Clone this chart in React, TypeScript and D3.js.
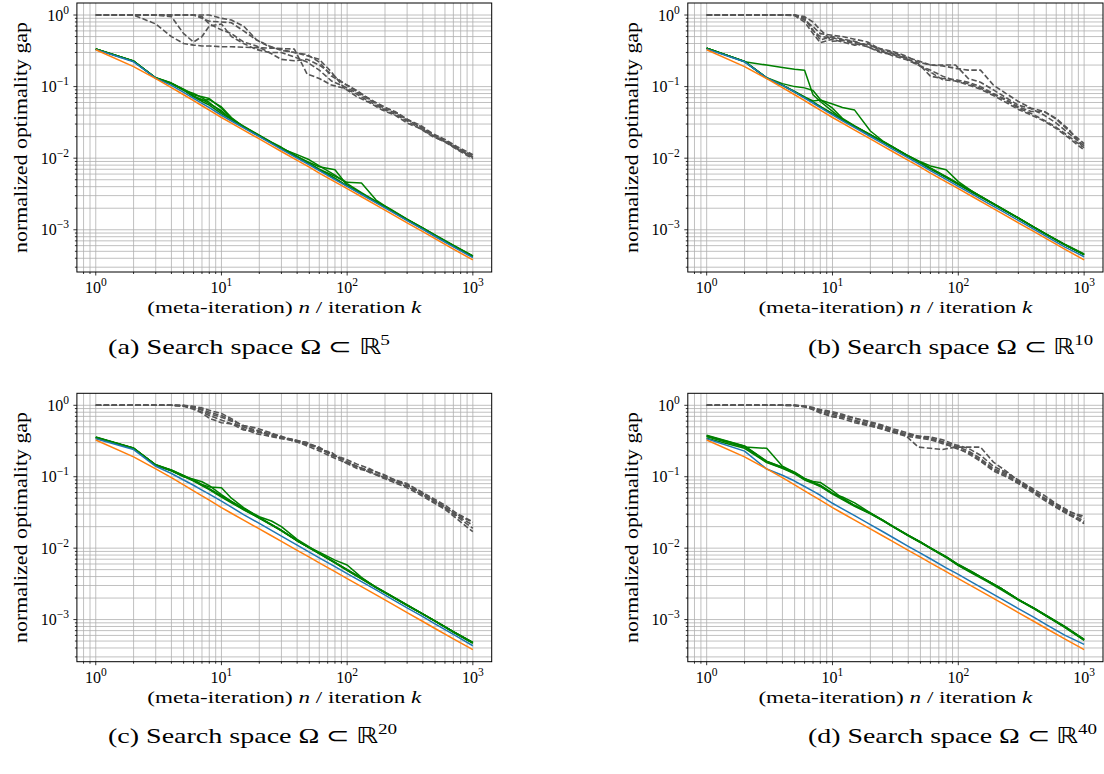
import React from 'react';
import * as d3 from 'd3';

// ---------- data ----------
// iteration grid for the solid curves
const K = [1, 2, 3, 4, 5, 6, 7, 8, 10, 12, 15, 20, 25, 30, 40, 50, 60, 80, 100, 130, 170, 220, 300, 400, 500, 700, 1000];
// iteration grid for the dashed (gray) curves
const GK = [1, 2, 3, 4, 5, 6, 7, 8, 10, 12, 15, 19, 24, 30, 38, 48, 60, 75, 95, 120, 150, 190, 240, 300, 380, 480, 600, 760, 1000];

const ORANGE = [0.327, 0.19, 0.129, 0.097, 0.077, 0.0635, 0.054, 0.047, 0.037, 0.0308, 0.0247, 0.0186, 0.0149, 0.0124, 0.0093, 0.0075, 0.0062, 0.00468, 0.00375, 0.00289, 0.00221, 0.00171, 0.00125, 0.00094, 0.00075, 0.000535, 0.00038];

const BLUE_A = [0.33, 0.222, 0.131, 0.104, 0.083, 0.0685, 0.0583, 0.0507, 0.0398, 0.0331, 0.0265, 0.02, 0.016, 0.0133, 0.01, 0.0081, 0.0067, 0.00503, 0.00403, 0.00311, 0.00237, 0.00184, 0.00134, 0.00101, 0.000805, 0.000575, 0.000408];
const BLUE_B = [0.335, 0.222, 0.132, 0.104, 0.084, 0.069, 0.059, 0.051, 0.0402, 0.0333, 0.0267, 0.0201, 0.0161, 0.0134, 0.0101, 0.0081, 0.0067, 0.00505, 0.00405, 0.00312, 0.00238, 0.00185, 0.00135, 0.00101, 0.00081, 0.000578, 0.00042];
const BLUE_C = [0.34, 0.24, 0.14, 0.111, 0.09, 0.076, 0.065, 0.057, 0.0455, 0.0375, 0.0295, 0.0222, 0.0177, 0.0147, 0.011, 0.0088, 0.0073, 0.0055, 0.0044, 0.0034, 0.0026, 0.002, 0.00146, 0.0011, 0.00087, 0.00062, 0.00043];
const BLUE_D = [0.34, 0.228, 0.128, 0.105, 0.087, 0.073, 0.063, 0.055, 0.0425, 0.0355, 0.0285, 0.0214, 0.0171, 0.0142, 0.0106, 0.0085, 0.0071, 0.0053, 0.0043, 0.0033, 0.00252, 0.00195, 0.00142, 0.00107, 0.00085, 0.000605, 0.00045];

const GREEN_A = [
  [0.335, 0.228, 0.133, 0.112, 0.092, 0.077, 0.072, 0.068, 0.05, 0.036, 0.0275, 0.0207, 0.0165, 0.0138, 0.0104, 0.0084, 0.0069, 0.0052, 0.0041, 0.0032, 0.00245, 0.0019, 0.00138, 0.00104, 0.00083, 0.00059, 0.000425],
  [0.335, 0.226, 0.132, 0.111, 0.09, 0.08, 0.07, 0.06, 0.044, 0.035, 0.028, 0.021, 0.0168, 0.0142, 0.0105, 0.0087, 0.0076, 0.0069, 0.0042, 0.00322, 0.00246, 0.00191, 0.00139, 0.00105, 0.00084, 0.0006, 0.00043],
  [0.336, 0.228, 0.133, 0.112, 0.091, 0.074, 0.064, 0.066, 0.052, 0.037, 0.0274, 0.0204, 0.0164, 0.0139, 0.0106, 0.0084, 0.007, 0.0056, 0.0046, 0.0045, 0.0026, 0.00192, 0.0014, 0.00105, 0.00083, 0.0006, 0.000425],
  [0.334, 0.227, 0.131, 0.11, 0.09, 0.073, 0.066, 0.058, 0.046, 0.035, 0.0272, 0.0205, 0.0166, 0.0137, 0.0112, 0.0095, 0.0078, 0.0058, 0.0044, 0.0033, 0.0025, 0.00195, 0.00141, 0.00106, 0.00085, 0.00061, 0.00043],
  [0.335, 0.227, 0.132, 0.11, 0.089, 0.072, 0.062, 0.055, 0.042, 0.0345, 0.0272, 0.0205, 0.0164, 0.0137, 0.0103, 0.0083, 0.0069, 0.0052, 0.0041, 0.00318, 0.00243, 0.00188, 0.00137, 0.00103, 0.00082, 0.00059, 0.00042],
];
const GREEN_B = [
  [0.345, 0.222, 0.2, 0.185, 0.175, 0.169, 0.077, 0.062, 0.045, 0.035, 0.028, 0.0213, 0.017, 0.0143, 0.0107, 0.0086, 0.0071, 0.0054, 0.0043, 0.0033, 0.00255, 0.00198, 0.00145, 0.00108, 0.00086, 0.00062, 0.00045],
  [0.345, 0.225, 0.133, 0.11, 0.1, 0.096, 0.088, 0.066, 0.05, 0.036, 0.0282, 0.0214, 0.0171, 0.0143, 0.0107, 0.0087, 0.0072, 0.0055, 0.0044, 0.0034, 0.0026, 0.002, 0.00146, 0.00109, 0.00087, 0.00062, 0.00045],
  [0.345, 0.225, 0.132, 0.105, 0.086, 0.072, 0.063, 0.065, 0.057, 0.051, 0.047, 0.024, 0.0175, 0.0145, 0.0108, 0.0088, 0.0073, 0.0055, 0.0044, 0.0034, 0.0026, 0.002, 0.00147, 0.00109, 0.00087, 0.00063, 0.00046],
  [0.343, 0.224, 0.131, 0.104, 0.084, 0.07, 0.06, 0.052, 0.042, 0.0345, 0.0276, 0.021, 0.0172, 0.0144, 0.0108, 0.0089, 0.0078, 0.0069, 0.0047, 0.0034, 0.0026, 0.00199, 0.00146, 0.00108, 0.00086, 0.00062, 0.00045],
  [0.345, 0.225, 0.132, 0.105, 0.085, 0.071, 0.061, 0.053, 0.042, 0.0348, 0.0278, 0.0212, 0.017, 0.0142, 0.0106, 0.0086, 0.0071, 0.0054, 0.0043, 0.0033, 0.00255, 0.00198, 0.00145, 0.00108, 0.00086, 0.00062, 0.00045],
];
const GREEN_C = [
  [0.36, 0.252, 0.147, 0.124, 0.104, 0.09, 0.078, 0.072, 0.07, 0.05, 0.037, 0.027, 0.0215, 0.0178, 0.0128, 0.0102, 0.0085, 0.0063, 0.005, 0.0038, 0.00285, 0.0022, 0.0016, 0.0012, 0.00096, 0.00068, 0.00048],
  [0.355, 0.25, 0.145, 0.121, 0.1, 0.092, 0.085, 0.075, 0.056, 0.045, 0.0355, 0.0268, 0.0213, 0.0177, 0.0127, 0.0101, 0.0084, 0.0062, 0.0049, 0.0037, 0.0028, 0.00217, 0.00158, 0.00119, 0.00095, 0.00067, 0.00047],
  [0.352, 0.248, 0.145, 0.121, 0.101, 0.087, 0.075, 0.066, 0.052, 0.043, 0.0345, 0.0262, 0.021, 0.0175, 0.0126, 0.0102, 0.0088, 0.0068, 0.0058, 0.0039, 0.0028, 0.00217, 0.00158, 0.00119, 0.00095, 0.00067, 0.00047],
  [0.358, 0.251, 0.147, 0.123, 0.103, 0.089, 0.077, 0.068, 0.054, 0.045, 0.036, 0.0275, 0.024, 0.02, 0.0133, 0.0104, 0.0085, 0.0063, 0.005, 0.0038, 0.00285, 0.0022, 0.0016, 0.0012, 0.00096, 0.00068, 0.00048],
  [0.355, 0.25, 0.146, 0.122, 0.102, 0.088, 0.076, 0.067, 0.053, 0.044, 0.035, 0.0265, 0.0212, 0.0176, 0.0127, 0.0101, 0.0084, 0.0062, 0.0049, 0.0037, 0.0028, 0.00217, 0.00158, 0.00119, 0.00095, 0.00067, 0.00047],
];
const GREEN_D = [
  [0.365, 0.26, 0.25, 0.14, 0.115, 0.093, 0.083, 0.075, 0.058, 0.049, 0.039, 0.0305, 0.0245, 0.0202, 0.015, 0.0121, 0.01, 0.0075, 0.0058, 0.0045, 0.0035, 0.0027, 0.0019, 0.00143, 0.00113, 0.00079, 0.00052],
  [0.375, 0.268, 0.164, 0.136, 0.112, 0.094, 0.086, 0.083, 0.064, 0.05, 0.0395, 0.031, 0.0248, 0.0204, 0.0152, 0.0122, 0.0101, 0.0076, 0.0059, 0.0046, 0.0035, 0.0027, 0.0019, 0.00144, 0.00114, 0.0008, 0.00053],
  [0.368, 0.262, 0.16, 0.132, 0.113, 0.091, 0.082, 0.074, 0.058, 0.052, 0.043, 0.0312, 0.0247, 0.0203, 0.0151, 0.0121, 0.01, 0.0075, 0.0058, 0.0045, 0.0035, 0.0027, 0.0019, 0.00143, 0.00113, 0.00079, 0.00052],
  [0.345, 0.25, 0.158, 0.131, 0.11, 0.09, 0.081, 0.073, 0.057, 0.048, 0.0385, 0.0302, 0.0243, 0.02, 0.0149, 0.012, 0.0099, 0.0074, 0.0057, 0.0044, 0.0034, 0.0026, 0.00188, 0.00141, 0.00112, 0.00078, 0.00051],
  [0.38, 0.27, 0.165, 0.136, 0.116, 0.095, 0.084, 0.076, 0.059, 0.0495, 0.0395, 0.0308, 0.0247, 0.0204, 0.0151, 0.0122, 0.0101, 0.0076, 0.0059, 0.0046, 0.0035, 0.00272, 0.00192, 0.00145, 0.00114, 0.0008, 0.00053],
];

const GRAY_A = [
  [1, 1, 0.75, 0.5, 0.4, 0.38, 0.37, 0.37, 0.36, 0.36, 0.355, 0.35, 0.345, 0.34, 0.335, 0.15, 0.13, 0.105, 0.095, 0.072, 0.06, 0.047, 0.04, 0.031, 0.026, 0.02, 0.017, 0.0132, 0.0105],
  [1, 1, 1, 0.95, 0.55, 0.42, 0.5, 0.7, 0.75, 0.5, 0.4, 0.33, 0.3, 0.3, 0.26, 0.22, 0.17, 0.12, 0.1, 0.082, 0.066, 0.05, 0.043, 0.034, 0.028, 0.021, 0.0178, 0.0138, 0.0108],
  [1, 1, 1, 1, 1, 1, 0.9, 0.82, 0.8, 0.78, 0.6, 0.45, 0.36, 0.33, 0.3, 0.28, 0.22, 0.14, 0.11, 0.085, 0.068, 0.052, 0.045, 0.035, 0.029, 0.022, 0.0183, 0.0143, 0.0112],
  [1, 1, 1, 1, 1, 1, 1, 1, 0.9, 0.85, 0.7, 0.45, 0.37, 0.32, 0.3, 0.27, 0.24, 0.16, 0.095, 0.078, 0.062, 0.049, 0.041, 0.033, 0.026, 0.0205, 0.0168, 0.013, 0.0098],
  [1, 1, 1, 1, 1, 1, 0.95, 0.75, 0.62, 0.55, 0.42, 0.37, 0.3, 0.24, 0.23, 0.24, 0.2, 0.15, 0.11, 0.088, 0.067, 0.054, 0.044, 0.035, 0.027, 0.0215, 0.0172, 0.0136, 0.0102],
];
const GRAY_B = [
  [1, 1, 1, 1, 1, 0.92, 0.6, 0.5, 0.48, 0.45, 0.42, 0.38, 0.34, 0.31, 0.27, 0.22, 0.2, 0.2, 0.2, 0.13, 0.115, 0.09, 0.07, 0.055, 0.049, 0.04, 0.031, 0.022, 0.015],
  [1, 1, 1, 1, 1, 0.85, 0.69, 0.55, 0.52, 0.5, 0.46, 0.42, 0.33, 0.3, 0.26, 0.23, 0.2, 0.195, 0.18, 0.17, 0.17, 0.105, 0.08, 0.062, 0.05, 0.045, 0.035, 0.024, 0.016],
  [1, 1, 1, 1, 1, 0.95, 0.8, 0.62, 0.43, 0.44, 0.4, 0.36, 0.3, 0.28, 0.25, 0.21, 0.14, 0.13, 0.125, 0.115, 0.1, 0.08, 0.066, 0.052, 0.045, 0.045, 0.036, 0.025, 0.0135],
  [1, 1, 1, 1, 1, 0.88, 0.62, 0.45, 0.5, 0.46, 0.43, 0.36, 0.31, 0.29, 0.25, 0.2, 0.17, 0.14, 0.12, 0.11, 0.095, 0.078, 0.064, 0.05, 0.042, 0.034, 0.027, 0.02, 0.014],
  [1, 1, 1, 1, 0.98, 0.8, 0.55, 0.41, 0.46, 0.42, 0.38, 0.4, 0.32, 0.27, 0.24, 0.2, 0.16, 0.125, 0.12, 0.105, 0.092, 0.075, 0.06, 0.048, 0.04, 0.033, 0.026, 0.019, 0.013],
];
const GRAY_C = [
  [1, 1, 1, 1, 0.99, 0.95, 0.88, 0.8, 0.72, 0.62, 0.52, 0.48, 0.42, 0.36, 0.33, 0.3, 0.25, 0.21, 0.17, 0.14, 0.12, 0.1, 0.088, 0.075, 0.062, 0.047, 0.038, 0.028, 0.021],
  [1, 1, 1, 1, 0.98, 0.9, 0.8, 0.72, 0.62, 0.55, 0.5, 0.42, 0.4, 0.37, 0.31, 0.29, 0.26, 0.2, 0.18, 0.15, 0.13, 0.105, 0.09, 0.078, 0.06, 0.045, 0.036, 0.027, 0.019],
  [1, 1, 1, 1, 1, 0.97, 0.92, 0.85, 0.77, 0.65, 0.5, 0.45, 0.4, 0.35, 0.32, 0.3, 0.24, 0.22, 0.16, 0.14, 0.115, 0.1, 0.085, 0.073, 0.058, 0.048, 0.037, 0.029, 0.023],
  [1, 1, 1, 1, 0.97, 0.88, 0.78, 0.66, 0.57, 0.55, 0.45, 0.44, 0.38, 0.35, 0.33, 0.28, 0.25, 0.2, 0.17, 0.135, 0.125, 0.11, 0.09, 0.08, 0.063, 0.05, 0.04, 0.03, 0.0235],
  [1, 1, 1, 1, 0.99, 0.93, 0.85, 0.76, 0.68, 0.6, 0.47, 0.4, 0.37, 0.34, 0.32, 0.27, 0.23, 0.19, 0.16, 0.13, 0.118, 0.097, 0.082, 0.07, 0.056, 0.044, 0.035, 0.025, 0.017],
];
const GRAY_D = [
  [1, 1, 1, 1, 1, 0.97, 0.9, 0.85, 0.78, 0.72, 0.66, 0.6, 0.54, 0.47, 0.42, 0.37, 0.36, 0.33, 0.28, 0.25, 0.2, 0.14, 0.115, 0.09, 0.07, 0.055, 0.042, 0.033, 0.026],
  [1, 1, 1, 1, 0.99, 0.96, 0.88, 0.8, 0.7, 0.68, 0.62, 0.55, 0.5, 0.44, 0.38, 0.26, 0.25, 0.24, 0.26, 0.26, 0.26, 0.16, 0.12, 0.088, 0.068, 0.05, 0.04, 0.031, 0.024],
  [1, 1, 1, 1, 1, 0.98, 0.93, 0.87, 0.81, 0.75, 0.66, 0.58, 0.52, 0.45, 0.4, 0.36, 0.35, 0.31, 0.27, 0.23, 0.18, 0.13, 0.11, 0.085, 0.066, 0.051, 0.041, 0.032, 0.028],
  [1, 1, 1, 1, 1, 0.97, 0.92, 0.83, 0.74, 0.7, 0.6, 0.53, 0.47, 0.42, 0.39, 0.37, 0.34, 0.3, 0.25, 0.22, 0.17, 0.125, 0.105, 0.082, 0.065, 0.049, 0.038, 0.03, 0.022],
  [1, 1, 1, 1, 0.995, 0.95, 0.87, 0.78, 0.69, 0.65, 0.57, 0.52, 0.48, 0.42, 0.37, 0.35, 0.33, 0.29, 0.26, 0.21, 0.165, 0.12, 0.1, 0.08, 0.062, 0.047, 0.037, 0.029, 0.023],
];

const X_TICKS = [1, 10, 100, 1000];
const X_TICK_EXP = ['0', '1', '2', '3'];
const Y_TICKS = [1, 0.1, 0.01, 0.001];
const Y_TICK_EXP = ['0', '\u22121', '\u22122', '\u22123'];
const CAPTION_TAGS = ['(a)', '(b)', '(c)', '(d)'];
const CAPTION_DIMS = ['5', '10', '20', '40'];
const Y_LABEL = 'normalized optimality gap';

// ---------- layout ----------
const FONT = 'Liberation Serif';
const GRID = '#b0b0b0';
const GRAY = '#555555';
const GREENC = '#008000';
const BLUEC = '#1f77b4';
const ORANGEC = '#ff7f0e';

const PANELS = [
  { left: 76.9, right: 491.7, top: 3, bottom: 272, blue: BLUE_A, green: GREEN_A, gray: GRAY_A, capX: 108, capY: 354, capW: 282 },
  { left: 687.8, right: 1103, top: 3, bottom: 272, blue: BLUE_B, green: GREEN_B, gray: GRAY_B, capX: 808, capY: 354, capW: 285 },
  { left: 76.9, right: 491.7, top: 393.3, bottom: 661.7, blue: BLUE_C, green: GREEN_C, gray: GRAY_C, capX: 108, capY: 743, capW: 289 },
  { left: 687.8, right: 1103, top: 393.3, bottom: 661.7, blue: BLUE_D, green: GREEN_D, gray: GRAY_D, capX: 808, capY: 743, capW: 289 },
];

const txt = (size: number): React.CSSProperties => ({ fontFamily: FONT, fontSize: size });

function Panel({ p, i }: { p: any; i: number }) {
  const x = d3.scaleLog().domain([Math.pow(10, -0.15), Math.pow(10, 3.15)]).range([p.left, p.right]);
  const y = d3.scaleLog().domain([Math.pow(10, -3.59), Math.pow(10, 0.168)]).range([p.bottom, p.top]);
  const [x0, x1] = x.domain();
  const [y0, y1] = y.domain();
  const xMinor: number[] = [];
  for (let e = -1; e <= 3; e++) for (let m = 2; m <= 9; m++) { const v = m * Math.pow(10, e); if (v >= x0 && v <= x1) xMinor.push(v); }
  const yMinor: number[] = [];
  for (let e = -4; e <= 0; e++) for (let m = 2; m <= 9; m++) { const v = m * Math.pow(10, e); if (v >= y0 && v <= y1) yMinor.push(v); }

  const line = d3.line<[number, number]>().x(d => x(d[0])).y(d => y(d[1]));
  const solid = (vals: number[]) => line(K.map((k, j) => [k, vals[j]] as [number, number])) || '';
  const dashed = (vals: number[]) => line(GK.map((k, j) => [k, vals[j]] as [number, number])) || '';
  const cx = (p.left + p.right) / 2;
  const cy = (p.top + p.bottom) / 2;
  const clipId = 'clip' + i;

  return (
    <g>
      <defs>
        <clipPath id={clipId}><rect x={p.left} y={p.top} width={p.right - p.left} height={p.bottom - p.top} /></clipPath>
      </defs>
      <g stroke={GRID} strokeWidth={0.8} fill="none">
        {xMinor.map(v => <line key={'xm' + v} x1={x(v)} x2={x(v)} y1={p.top} y2={p.bottom} />)}
        {yMinor.map(v => <line key={'ym' + v} y1={y(v)} y2={y(v)} x1={p.left} x2={p.right} />)}
        {X_TICKS.map(v => <line key={'xM' + v} x1={x(v)} x2={x(v)} y1={p.top} y2={p.bottom} />)}
        {Y_TICKS.map(v => <line key={'yM' + v} y1={y(v)} y2={y(v)} x1={p.left} x2={p.right} />)}
      </g>
      <g clipPath={`url(#${clipId})`} fill="none" strokeLinejoin="round">
        {p.gray.map((g: number[], j: number) => <path key={'g' + j} d={dashed(g)} stroke={GRAY} strokeWidth={1.6} strokeDasharray="5.5,2.4" />)}
        {p.green.map((g: number[], j: number) => <path key={'gr' + j} d={solid(g)} stroke={GREENC} strokeWidth={1.5} />)}
        <path d={solid(p.blue)} stroke={BLUEC} strokeWidth={1.5} />
        <path d={solid(ORANGE)} stroke={ORANGEC} strokeWidth={1.5} />
      </g>
      <rect x={p.left} y={p.top} width={p.right - p.left} height={p.bottom - p.top} fill="none" stroke="#000" strokeWidth={1} />
      <g stroke="#000" strokeWidth={0.8}>
        {X_TICKS.map(v => <line key={'xt' + v} x1={x(v)} x2={x(v)} y1={p.bottom} y2={p.bottom + 3.5} />)}
        {xMinor.map(v => <line key={'xmt' + v} x1={x(v)} x2={x(v)} y1={p.bottom} y2={p.bottom + 2} />)}
        {Y_TICKS.map(v => <line key={'yt' + v} y1={y(v)} y2={y(v)} x1={p.left} x2={p.left - 3.5} />)}
        {yMinor.map(v => <line key={'ymt' + v} y1={y(v)} y2={y(v)} x1={p.left} x2={p.left - 2} />)}
      </g>
      <g fill="#000">
        {X_TICKS.map((v, j) => (
          <text key={'xl' + v} x={x(v)} y={p.bottom + 21} textAnchor="middle" style={txt(16)}>10<tspan dy={-7} style={txt(11.5)}>{X_TICK_EXP[j]}</tspan></text>
        ))}
        {Y_TICKS.map((v, j) => (
          <text key={'yl' + v} x={p.left - 8} y={y(v) + 5.5} textAnchor="end" style={txt(16)}>10<tspan dy={-7} style={txt(11.5)}>{Y_TICK_EXP[j]}</tspan></text>
        ))}
      </g>
      <text x={cx} y={p.bottom + 41} textAnchor="middle" style={txt(17)} textLength={274} lengthAdjust="spacingAndGlyphs">
        (meta-iteration) <tspan fontStyle="italic">n</tspan> / iteration <tspan fontStyle="italic">k</tspan>
      </text>
      <text transform={`translate(${p.left - 50},${cy}) rotate(-90)`} textAnchor="middle" style={txt(18)} textLength={231} lengthAdjust="spacingAndGlyphs">
        {Y_LABEL}
      </text>
      <text x={p.capX} y={p.capY} style={txt(22)} textLength={p.capW} lengthAdjust="spacingAndGlyphs">
        {CAPTION_TAGS[i]} Search space Ω ⊂ ℝ<tspan dy={-9} style={txt(15)}>{CAPTION_DIMS[i]}</tspan>
      </text>
    </g>
  );
}

export default function App() {
  return (
    <svg width={1104} height={774} style={{ position: 'absolute', left: 0, top: 0, background: '#fff' }}>
      <rect x={0} y={0} width={1104} height={774} fill="#fff" />
      {PANELS.map((p, i) => <Panel key={i} p={p} i={i} />)}
    </svg>
  );
}
